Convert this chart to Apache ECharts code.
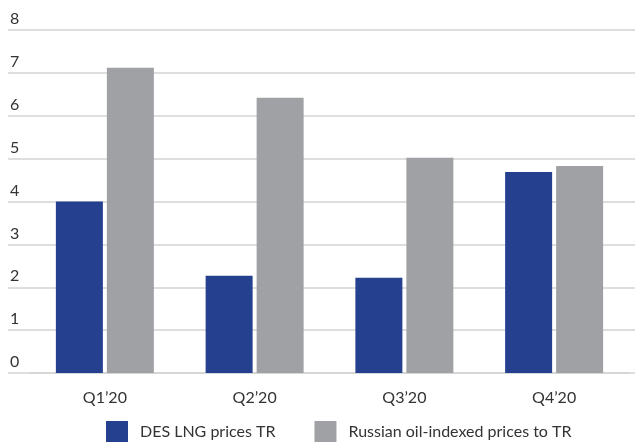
<!DOCTYPE html>
<html><head><meta charset="utf-8">
<script src="https://cdn.jsdelivr.net/npm/echarts@6/dist/echarts.min.js"></script>
<style>html,body{margin:0;padding:0;background:#fff}#c{width:635px;height:442px}</style>
</head><body><div id="c"></div>
<script>
const categories = ['Q1’20', 'Q2’20', 'Q3’20', 'Q4’20'];
const desLng = [4.0, 2.27, 2.22, 4.69];
const russianOil = [7.12, 6.42, 5.02, 4.83];
const yTicks = [0, 1, 2, 3, 4, 5, 6, 7, 8];

const FONT = 'Lato, "Open Sans", sans-serif';
const chart = echarts.init(document.getElementById('c'), null, {renderer: 'canvas'});
chart.setOption({
  animation: false,
  textStyle: {fontFamily: FONT},
  legend: {
    left: 106, top: 421, padding: 0,
    itemWidth: 22, itemHeight: 21, itemGap: 39,
    icon: 'rect',
    textStyle: {fontSize: 16, color: '#333', fontFamily: FONT, padding: [0, 0, 0, 7]},
    data: ['DES LNG prices TR', 'Russian oil-indexed prices to TR']
  },
  grid: [
    {left: 8, right: 0, top: 30, bottom: 69, containLabel: false},
    {left: 30, right: 6, top: 30, bottom: 69, containLabel: false}
  ],
  xAxis: [
    {type: 'category', gridIndex: 0, data: categories, show: false},
    {type: 'category', gridIndex: 1, data: categories,
      axisLine: {show: true, lineStyle: {color: '#d3d3d3', width: 1.5}},
      axisTick: {show: false},
      axisLabel: {fontSize: 16, color: '#333', margin: 17, fontFamily: FONT}}
  ],
  yAxis: [
    {type: 'value', gridIndex: 0, min: yTicks[0], max: yTicks[yTicks.length - 1], interval: 1,
      axisLine: {show: false}, axisTick: {show: false},
      splitLine: {lineStyle: {color: '#d3d3d3', width: 1.5}},
      axisLabel: {align: 'left', margin: -2, verticalAlign: 'bottom', lineHeight: 16,
        padding: [0, 0, 3, 0], fontSize: 16, color: '#333', fontFamily: FONT}},
    {type: 'value', gridIndex: 1, min: yTicks[0], max: yTicks[yTicks.length - 1], interval: 1, show: false}
  ],
  series: [
    {name: 'DES LNG prices TR', type: 'bar', xAxisIndex: 1, yAxisIndex: 1, data: desLng,
      barWidth: 47, barGap: '8.5%', itemStyle: {color: '#25408f'}},
    {name: 'Russian oil-indexed prices to TR', type: 'bar', xAxisIndex: 1, yAxisIndex: 1, data: russianOil,
      barWidth: 47, barGap: '8.5%', itemStyle: {color: '#a0a1a5'}}
  ]
});
</script></body></html>
